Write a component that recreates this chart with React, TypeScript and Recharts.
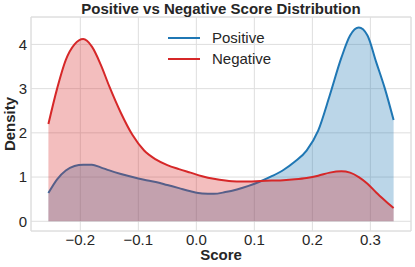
import React from 'react';
import {
  ComposedChart,
  Area,
  XAxis,
  YAxis,
  CartesianGrid,
  ReferenceLine,
  Label,
} from 'recharts';

// score grid (x) and the two density curves
const scores = [
  -0.255, -0.24, -0.225, -0.21, -0.195, -0.18, -0.165, -0.15, -0.13, -0.11, -0.09, -0.07,
  -0.05, -0.03, -0.01, 0.01, 0.03, 0.05, 0.07, 0.09, 0.11, 0.13, 0.15, 0.17, 0.19, 0.21,
  0.23, 0.25, 0.265, 0.28, 0.295, 0.31, 0.325, 0.34,
];
const positive = [
  0.64, 0.95, 1.15, 1.25, 1.28, 1.28, 1.22, 1.15, 1.07, 1.0, 0.94, 0.89, 0.82, 0.75, 0.68,
  0.63, 0.62, 0.66, 0.72, 0.8, 0.9, 1.02, 1.16, 1.35, 1.6, 2.05, 2.85, 3.7, 4.2, 4.38, 4.2,
  3.6, 3.0, 2.29,
];
const negative = [
  2.2, 3.0, 3.65, 4.0, 4.12, 3.95, 3.55, 3.05, 2.45, 1.95, 1.6, 1.4, 1.27, 1.18, 1.1, 1.02,
  0.96, 0.92, 0.9, 0.9, 0.91, 0.92, 0.93, 0.95, 0.98, 1.03, 1.1, 1.13, 1.1, 1.0, 0.85, 0.65,
  0.47, 0.3,
];
const seriesNames = ['Positive', 'Negative'];
const xTicks = [-0.2, -0.1, 0.0, 0.1, 0.2, 0.3];
const yTicks = [0, 1, 2, 3, 4];
const xDomain: [number, number] = [-0.285, 0.37];
const yDomain: [number, number] = [-0.22, 4.62];

const data = scores.map((x, i) => ({ x, positive: positive[i], negative: negative[i] }));

const BLUE = '#1f77b4';
const RED = '#d62728';
const GRID = '#dedede';
const INK = '#262626';
const FONT = '"Liberation Sans", Arial, sans-serif';

const fmtX = (v: number) => v.toFixed(1).replace('-', '\u2212');

const LegendBox = () => (
  <div
    style={{
      position: 'absolute',
      top: 27,
      left: 168,
      fontFamily: FONT,
      fontSize: 15,
      color: INK,
    }}
  >
    {seriesNames.map((name, i) => (
      <div key={name} style={{ display: 'flex', alignItems: 'center', height: 21 }}>
        <svg width={32} height={4} style={{ marginRight: 12 }}>
          <line x1={0} y1={2} x2={32} y2={2} stroke={i === 0 ? BLUE : RED} strokeWidth={2} />
        </svg>
        <span>{name}</span>
      </div>
    ))}
  </div>
);

export default function App() {
  return (
    <div style={{ position: 'absolute', left: 0, top: 0, width: 415, height: 267, background: '#fff' }}>
      <ComposedChart
        width={415}
        height={267}
        data={data}
        margin={{ top: 17, right: 4, bottom: 0, left: 0 }}
        style={{ fontFamily: FONT }}
      >
        <CartesianGrid stroke={GRID} strokeWidth={1} />
        <XAxis
          type="number"
          dataKey="x"
          domain={xDomain}
          ticks={xTicks}
          allowDataOverflow
          tickFormatter={fmtX}
          axisLine={false}
          tickLine={false}
          tickSize={3}
          tickMargin={0}
          height={36}
          tick={{ fill: INK, fontSize: 15 }}
        >
          <Label
            content={({ viewBox }: any) => (
              <text
                x={viewBox.x + viewBox.width / 2}
                y={viewBox.y + 29}
                textAnchor="middle"
                fontWeight="bold"
                fontSize={15}
                fill={INK}
              >
                Score
              </text>
            )}
          />
        </XAxis>
        <YAxis
          type="number"
          domain={yDomain}
          ticks={yTicks}
          allowDataOverflow
          axisLine={false}
          tickLine={false}
          tickSize={3}
          tickMargin={1}
          width={31}
          tick={{ fill: INK, fontSize: 15 }}
        >
          <Label
            content={({ viewBox }: any) => {
              const cx = 15;
              const cy = viewBox.y + viewBox.height / 2;
              return (
                <text
                  x={cx}
                  y={cy}
                  transform={`rotate(-90 ${cx} ${cy})`}
                  textAnchor="middle"
                  fontWeight="bold"
                  fontSize={15}
                  fill={INK}
                >
                  Density
                </text>
              );
            }}
          />
        </YAxis>
        <ReferenceLine x={xDomain[0]} stroke={GRID} />
        <ReferenceLine x={xDomain[1]} stroke={GRID} />
        <ReferenceLine y={yDomain[0]} stroke={GRID} />
        <ReferenceLine y={yDomain[1]} stroke={GRID} />
        <Area
          type="monotone"
          dataKey="positive"
          name="Positive"
          stroke={BLUE}
          strokeWidth={2}
          fill={BLUE}
          fillOpacity={0.3}
          baseValue={0}
          dot={false}
          activeDot={false}
          isAnimationActive={false}
        />
        <Area
          type="monotone"
          dataKey="negative"
          name="Negative"
          stroke={RED}
          strokeWidth={2}
          fill={RED}
          fillOpacity={0.3}
          baseValue={0}
          dot={false}
          activeDot={false}
          isAnimationActive={false}
        />
      </ComposedChart>
      <div
        style={{
          position: 'absolute',
          left: 31,
          width: 380,
          top: 0,
          textAlign: 'center',
          fontFamily: FONT,
          fontWeight: 'bold',
          fontSize: 15,
          lineHeight: '18px',
          color: INK,
        }}
      >
        Positive vs Negative Score Distribution
      </div>
      <LegendBox />
    </div>
  );
}
